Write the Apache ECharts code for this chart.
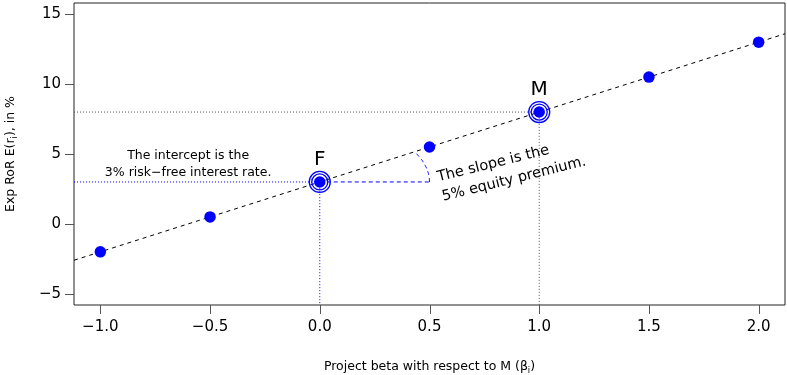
<!DOCTYPE html>
<html>
<head>
<meta charset="utf-8">
<script src="https://cdn.jsdelivr.net/npm/echarts@6/dist/echarts.min.js"></script>
<style>
  html, body { margin: 0; padding: 0; background: #fff; }
  #main { width: 787px; height: 375px; }
</style>
</head>
<body>
<div id="main"></div>
<script>
(function () {
  'use strict';
  // data
  var betas = [-1, -0.5, 0, 0.5, 1, 1.5, 2];
  var returns = [-2, 0.5, 3, 5.5, 8, 10.5, 13];
  var riskFree = 3;
  var premium = 5;
  var xTicks = [-1, -0.5, 0, 0.5, 1, 1.5, 2];
  var yTicks = [-5, 0, 5, 10, 15];
  var xLim = [-1.12, 2.12];
  var yLim = [-5.8, 15.8];

  var font = 'DejaVu Sans';
  var blue = '#0000ff';
  var tickLen = 9;
  var fmt = function (v) { return String(v).replace('-', '\u2212'); };

  var pts = betas.map(function (b, i) { return [b, returns[i]]; });
  var F = [0, riskFree];
  var M = [1, riskFree + premium];

  var nameStyle = { rich: {
    t: { fontFamily: font, fontSize: 12.5, color: '#000' },
    s: { fontFamily: font, fontSize: 8.5, color: '#000', padding: [8, 0, 0, 0] } } };

  var myChart = echarts.init(document.getElementById('main'));
  var option = {
    animation: false,
    grid: { left: 74, right: 2, top: 3, bottom: 70, show: true, borderColor: '#222', borderWidth: 1,
      outerBoundsMode: 'none' },
    xAxis: {
      type: 'value', min: xLim[0], max: xLim[1],
      name: '{t|Project beta with respect to M (β}{s|i}{t|)}',
      nameLocation: 'middle', nameGap: 53,
      nameTextStyle: nameStyle,
      axisLine: { show: false, onZero: false },
      splitLine: { show: false },
      axisTick: { show: false },
      axisLabel: { customValues: xTicks, margin: 15, fontFamily: font, fontSize: 15, color: '#000',
        formatter: function (v) { return fmt(v.toFixed(1)); } }
    },
    yAxis: {
      type: 'value', min: yLim[0], max: yLim[1],
      name: '{t|Exp RoR E(r}{s|i}{t|), in %}',
      nameLocation: 'middle', nameGap: 55, nameRotate: 90,
      nameTextStyle: nameStyle,
      axisLine: { show: false, onZero: false },
      splitLine: { show: false },
      axisTick: { show: false },
      axisLabel: { customValues: yTicks, margin: 13, fontFamily: font, fontSize: 15, color: '#000',
        formatter: function (v) { return fmt(v); } }
    },
    series: [
      { // regression line across the whole plot
        type: 'line', symbol: 'none', silent: true,
        data: [[xLim[0], riskFree + premium * xLim[0]], [xLim[1], riskFree + premium * xLim[1]]],
        lineStyle: { color: '#000', width: 1, type: [4, 4] }, z: 3
      },
      { // M guide lines
        type: 'line', symbol: 'none', silent: true,
        data: [[xLim[0], M[1]], M, [M[0], yLim[0]]],
        lineStyle: { color: '#555', width: 1, type: [1, 2] }, z: 2
      },
      { // F guide lines
        type: 'line', symbol: 'none', silent: true,
        data: [[xLim[0], F[1]], F, [F[0], yLim[0]]],
        lineStyle: { color: blue, width: 1, type: [1, 2] }, z: 2
      },
      { // run of the slope
        type: 'line', symbol: 'none', silent: true,
        data: [F, [0.5, riskFree]],
        lineStyle: { color: blue, width: 1, type: [4, 3] }, z: 2
      },
      { // angle arc
        type: 'custom', silent: true, z: 2,
        data: [F],
        renderItem: function (params, api) {
          var c = api.coord([api.value(0), api.value(1)]);
          var p = api.coord([0.5, riskFree]);
          var q = api.coord([1, riskFree + premium]);
          var rx = p[0] - c[0], ry = rx * 0.545;
          var slope = (c[1] - q[1]) / (q[0] - c[0]);
          var tEnd = Math.atan(slope * rx / ry);
          var arcPts = [];
          for (var k = 0; k <= 30; k++) {
            var t = tEnd * k / 30;
            arcPts.push([c[0] + rx * Math.cos(t), c[1] - ry * Math.sin(t)]);
          }
          return { type: 'polyline', shape: { points: arcPts },
            style: { stroke: blue, fill: null, lineWidth: 1, lineDash: [4, 3] } };
        }
      },
      { // points
        type: 'scatter', data: pts, symbolSize: 11.5,
        itemStyle: { color: blue, opacity: 1 }, z: 5
      },
      { // rings around F and M
        type: 'scatter', data: [F, M], symbolSize: 16,
        itemStyle: { color: 'none', borderColor: blue, borderWidth: 1.3, opacity: 1 }, z: 5
      },
      {
        type: 'scatter', data: [F, M], symbolSize: 21,
        itemStyle: { color: 'none', borderColor: blue, borderWidth: 1.3, opacity: 1 }, z: 5,
        label: { show: true, position: 'top', distance: -1, fontFamily: font, fontSize: 20, color: '#000',
          formatter: function (p) { return p.dataIndex === 0 ? 'F' : 'M'; } }
      }
    ]
  };
  myChart.setOption(option);

  // tick marks (thin filled rects) and annotations placed from data coordinates
  var toPx = function (pt) { return myChart.convertToPixel({ gridIndex: 0 }, pt); };
  var graphics = [];
  xTicks.forEach(function (v) {
    var p = toPx([v, yLim[0]]);
    graphics.push({ type: 'rect', z: 10, silent: true,
      shape: { x: Math.round(p[0]), y: Math.round(p[1]), width: 1, height: tickLen },
      style: { fill: '#555' } });
  });
  yTicks.forEach(function (v) {
    var p = toPx([xLim[0], v]);
    graphics.push({ type: 'rect', z: 10, silent: true,
      shape: { x: Math.round(p[0]) - tickLen, y: Math.round(p[1]), width: tickLen, height: 1 },
      style: { fill: '#555' } });
  });
  var ip = toPx([-0.6, 4.3]);
  var sp = toPx([0.548, 2.61]);
  graphics.push(
    { type: 'text', x: ip[0], y: ip[1], z: 10,
      style: { text: 'The intercept is the\n3% risk\u2212free interest rate.', font: '12.5px "DejaVu Sans"',
        fill: '#000', align: 'center', verticalAlign: 'middle', lineHeight: 17 } },
    { type: 'text', x: sp[0], y: sp[1], rotation: 14 * Math.PI / 180, z: 10,
      style: { text: 'The slope is the\n5% equity premium.', font: '14.5px "DejaVu Sans"',
        fill: '#000', align: 'left', verticalAlign: 'middle', lineHeight: 20 } }
  );
  myChart.setOption({ graphic: graphics });
  window.addEventListener('resize', function () {
    myChart.resize();
  });
})();
</script>
</body>
</html>
